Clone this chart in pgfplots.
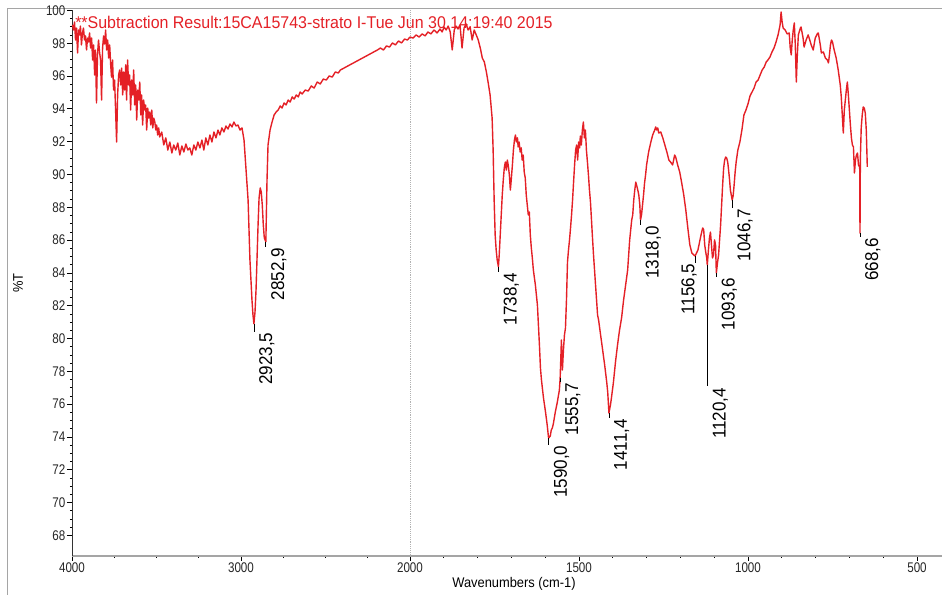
\documentclass[border=0pt]{standalone}
\usepackage{fontspec}
\setmainfont{Liberation Sans}
\newfontfamily\tickfont[FakeStretch=0.83]{Liberation Sans}
\newfontfamily\labfont[FakeStretch=0.92]{Liberation Sans}
\newfontfamily\titlefont[FakeStretch=0.94]{Liberation Sans}
\newfontfamily\peakfont[FakeStretch=0.92]{Liberation Sans}
\usepackage{pgfplots}
\usepackage{pgfplotstable}
\pgfplotsset{compat=1.18}
\definecolor{specred}{RGB}{228,32,38}
\definecolor{framegray}{RGB}{165,165,165}

% IR spectrum: wavenumber (cm-1), transmittance (%T)
\pgfplotstableread{
wn T
3997 99.12
3991 98.81
3985 99.30
3979 98.20
3973 98.93
3967 97.41
3961 98.81
3956 98.51
3950 99.05
3944 97.90
3938 98.63
3932 98.93
3926 98.20
3920 98.45
3914 97.59
3908 98.32
3902 98.08
3896 98.63
3890 97.71
3884 98.32
3878 96.98
3872 97.90
3866 96.07
3861 97.59
3855 94.36
3849 97.29
3843 98.20
3837 97.47
3831 96.98
3825 94.54
3819 97.71
3813 98.45
3807 97.96
3801 98.81
3795 97.59
3789 98.20
3783 97.10
3777 97.90
3771 96.68
3766 95.94
3760 96.98
3754 95.15
3748 95.76
3742 93.93
3736 91.98
3730 94.85
3724 96.07
3718 96.37
3712 95.46
3706 96.49
3700 94.85
3694 96.25
3688 95.15
3682 96.68
3677 94.54
3671 96.98
3665 95.46
3659 96.07
3653 93.93
3647 95.76
3641 94.85
3635 96.37
3629 94.24
3623 95.46
3617 93.32
3611 95.15
3605 94.54
3599 95.64
3593 93.63
3588 94.85
3582 93.02
3576 94.54
3570 93.93
3564 94.24
3558 92.71
3552 94.05
3546 93.44
3540 93.81
3534 93.02
3528 93.93
3522 92.84
3516 93.44
3510 93.20
3504 92.71
3499 93.02
3493 92.41
3487 92.84
3481 92.29
3469 92.59
3457 91.80
3445 92.23
3433 91.49
3421 91.98
3409 91.31
3398 91.80
3386 91.49
3374 91.92
3362 91.19
3350 91.74
3338 91.37
3326 91.86
3314 91.49
3303 91.62
3291 91.19
3279 91.80
3267 91.49
3255 91.98
3243 91.62
3231 92.10
3220 91.49
3208 92.23
3196 91.80
3184 92.41
3172 91.98
3160 92.59
3148 92.23
3136 92.71
3125 92.41
3113 92.84
3101 92.59
3089 92.96
3077 92.77
3065 93.08
3053 92.90
3042 93.20
3030 92.96
3018 93.02
3006 92.71
2994 92.84
2982 92.10
2970 90.27
2958 88.44
2947 84.79
2935 82.35
2929 81.43
2923.5 80.90
2917 81.62
2911 82.96
2905 84.91
2899 86.92
2893 88.57
2886 89.18
2880 88.93
2874 88.14
2868 86.92
2862 86.13
2852.9 85.90
2846 89.66
2840 91.80
2828 92.71
2816 93.20
2804 93.63
2792 93.81
2780 93.93
2768 94.18
2757 94.05
2745 94.36
2733 94.24
2721 94.54
2709 94.42
2697 94.73
2685 94.60
2673 94.85
2661 94.73
2650 95.03
2638 94.91
2620 95.15
2602 95.09
2584 95.40
2567 95.27
2549 95.64
2531 95.52
2513 95.82
2495 95.76
2478 96.01
2460 95.94
2442 96.25
2424 96.19
2412 96.37
2193 97.59
2175 97.71
2157 97.59
2139 97.84
2121 97.77
2104 98.02
2086 97.90
2068 98.14
2050 98.02
2032 98.26
2015 98.20
2000 98.38
1991 98.32
1982 98.51
1973 98.38
1964 98.57
1955 98.45
1947 98.69
1938 98.57
1929 98.81
1920 98.63
1911 98.87
1905 98.69
1899 98.99
1893 98.81
1887 99.05
1881 98.69
1875 97.59
1869 98.81
1864 99.05
1858 98.87
1852 99.12
1846 97.71
1840 98.93
1834 99.18
1828 98.81
1822 98.99
1816 98.20
1810 98.81
1804 98.51
1798 98.20
1792 97.71
1786 97.10
1780 96.86
1774 96.25
1769 95.64
1763 94.85
1757 93.44
1754 91.49
1751 88.44
1748 86.31
1745 85.40
1742 84.79
1738.4 84.38
1736 85.09
1733 86.31
1730 87.53
1727 88.75
1724 89.66
1721 90.40
1718 90.76
1715 90.27
1712 90.88
1709 90.52
1706 89.97
1703 89.05
1700 89.79
1697 90.58
1694 91.49
1691 92.10
1688 92.41
1685 91.98
1682 92.23
1680 91.68
1677 91.98
1674 91.37
1671 91.62
1668 90.88
1665 91.19
1662 90.15
1659 89.79
1656 88.75
1653 88.14
1650 87.53
1647 87.71
1644 86.31
1641 85.52
1638 84.91
1635 84.18
1629 83.26
1623 82.04
1617 79.60
1614 78.20
1611 77.47
1605 76.37
1599 75.52
1594 74.72
1590.0 73.93
1585 74.05
1582 74.42
1579 74.54
1576 74.79
1570 75.52
1564 76.13
1558 76.86
1555.7 77.59
1552 79.91
1549 78.08
1546 79.30
1543 80.21
1540 80.64
1537 82.35
1534 84.66
1531 85.40
1528 86.01
1525 86.74
1522 87.53
1519 88.44
1516 89.54
1513 90.58
1510 91.49
1507 91.80
1504 90.88
1501 91.98
1498 91.62
1496 92.35
1493 91.80
1490 92.71
1487 93.20
1484 92.23
1481 92.71
1478 91.49
1475 90.76
1472 89.97
1469 89.05
1466 88.32
1463 87.23
1460 86.13
1457 85.09
1454 84.18
1451 83.26
1448 82.35
1445 81.43
1442 81.13
1436 80.21
1430 79.30
1424 78.38
1418 77.35
1415 76.74
1411.4 75.46
1407 75.94
1404 76.37
1401 76.86
1398 77.35
1392 78.57
1386 79.60
1380 80.52
1374 81.25
1368 82.35
1362 83.26
1356 84.18
1350 86.01
1344 87.23
1341 87.53
1338 88.44
1335 89.05
1332 89.54
1329 89.30
1326 89.05
1323 88.75
1320 88.14
1318.0 87.22
1315 87.53
1312 88.14
1309 88.75
1306 89.48
1303 89.97
1300 90.58
1294 91.37
1288 91.92
1282 92.41
1276 92.71
1273 92.90
1270 92.71
1267 92.84
1264 92.53
1258 92.59
1252 92.23
1246 91.80
1240 91.37
1234 90.88
1229 90.76
1223 90.58
1220 90.88
1217 91.19
1214 91.07
1208 90.58
1202 90.15
1196 89.48
1190 88.75
1184 87.84
1178 86.74
1172 85.70
1166 85.21
1160 85.09
1156.5 85.03
1148 85.40
1142 86.01
1137 86.49
1134 86.74
1131 86.62
1128 85.70
1125 85.27
1122 84.91
1120.4 84.48
1117 85.40
1114 86.13
1111 86.49
1108 85.70
1105 84.91
1102 85.09
1099 86.01
1096 85.70
1093.6 83.99
1090 84.66
1087 85.09
1084 86.01
1081 86.92
1078 88.14
1075 89.36
1072 90.40
1069 90.88
1066 91.07
1063 91.01
1060 90.76
1058 90.40
1055 89.79
1052 89.05
1046.7 88.44
1044 88.69
1041 89.36
1038 90.15
1035 90.76
1030 91.49
1024 91.98
1018 92.71
1012 93.63
1006 93.93
1000 94.30
994 94.79
988 95.03
982 95.27
976 95.64
970 95.76
964 96.07
958 96.37
952 96.55
946 96.86
941 96.98
935 97.16
929 97.47
923 97.71
917 98.08
911 98.51
905 99.12
902 99.91
899 99.30
896 98.93
890 98.81
884 98.57
878 98.63
875 97.71
872 97.29
869 98.20
866 98.81
863 99.24
860 97.90
857 95.64
854 97.29
851 98.51
845 98.93
843 98.99
837 98.32
834 97.77
828 98.20
822 98.51
819 98.32
813 97.90
807 97.59
801 98.32
795 98.57
792 98.63
786 97.90
783 97.41
777 97.47
771 97.10
765 96.98
762 96.80
759 97.29
756 97.90
753 98.20
750 98.08
745 97.59
739 97.10
733 96.37
727 95.46
724 94.73
721 93.63
718 92.53
715 93.93
712 94.54
709 95.15
706 95.64
703 94.85
700 93.93
697 93.02
694 92.23
691 91.80
688 91.68
685 90.09
682 90.88
679 91.19
676 91.31
673 90.58
670 90.46
669.5 90.40
668.6 86.43
667.5 91.00
665 92.84
662 93.63
659 94.12
656 94.05
653 93.75
650 92.71
647 90.46
}\spectrum

\begin{document}
\begin{tikzpicture}[x=1pt,y=1pt]
\useasboundingbox (0,0) rectangle (706.5,446.25);
% page frame
\draw[framegray, line width=0.75pt] (5.25,-2) -- (5.25,439.5) -- (710,439.5);
\begin{axis}[
  at={(54pt,29.25pt)}, anchor=south west,
  scale only axis, width=652.5pt, height=409.5pt,
  clip=false,
  x dir=reverse,
  % the region above 2000 cm-1 is drawn at half scale
  x coord trafo/.code={\pgfmathparse{#1>2000 ? 2000+(#1-2000)/2 : #1}},
  x coord inv trafo/.code={\pgfmathparse{#1>2000 ? 2000+2*(#1-2000) : #1}},
  xmin=426, xmax=4000, ymin=66.74, ymax=100.03,
  axis x line*=bottom, axis y line*=left,
  x axis line style={framegray, line width=1.4pt},
  y axis line style={black!80, line width=0.5pt},
  xtick={4000,3000,2000,1500,1000,500},
  xticklabels={4000,3000,2000,1500,1000,500},
  minor xtick={3750,3500,3250,2750,2500,2250,1900,1800,1700,1600,1400,1300,1200,1100,900,800,700,600},
  ytick={68,70,...,100},
  minor y tick num=3,
  tick align=outside,
  major tick length=3.75pt,
  minor tick length=1.5pt,
  tick style={black, line width=0.6pt},
  /pgf/number format/assume math mode=true,
  ticklabel style={font=\tickfont\fontsize{10.5}{10.5}\selectfont, text=black!85, inner sep=1pt},
]
\draw[black!30, densely dotted] (axis cs:2000,66.74) -- (axis cs:2000,100.03);
\addplot[specred, line width=1.05pt, line join=round] table[x=wn, y=T] {\spectrum};

% peak annotations
\tikzset{pk/.style={black, line width=0.6pt},
  pl/.style={rotate=90, anchor=north east, inner sep=0pt, font=\peakfont\fontsize{13.9}{13.9}\selectfont}}
\draw[pk] (axis cs:2923.5,80.90) -- ++(0pt,-6pt);
\node[pl] at ([xshift=3.75pt,yshift=-6.5pt]axis cs:2923.5,80.90) {2923,5};
\draw[pk] (axis cs:2852.9,85.90) -- ++(0pt,-4pt);
\node[pl] at ([xshift=3.75pt,yshift=-4.5pt]axis cs:2852.9,85.90) {2852,9};
\draw[pk] (axis cs:1738.4,84.38) -- ++(0pt,-4pt);
\node[pl] at ([xshift=3.75pt,yshift=-4.5pt]axis cs:1738.4,84.38) {1738,4};
\draw[pk] (axis cs:1590.0,73.93) -- ++(0pt,-5pt);
\node[pl] at ([xshift=3.75pt,yshift=-5.5pt]axis cs:1590.0,73.93) {1590,0};
\draw[pk] (axis cs:1555.7,77.59) -- ++(0pt,-3pt);
\node[pl] at ([xshift=3.75pt,yshift=-3.5pt]axis cs:1555.7,77.59) {1555,7};
\draw[pk] (axis cs:1411.4,75.46) -- ++(0pt,-4pt);
\node[pl] at ([xshift=3.75pt,yshift=-4.5pt]axis cs:1411.4,75.46) {1411,4};
\draw[pk] (axis cs:1318.0,87.22) -- ++(0pt,-4pt);
\node[pl] at ([xshift=3.75pt,yshift=-4.5pt]axis cs:1318.0,87.22) {1318,0};
\draw[pk] (axis cs:1156.5,85.03) -- ++(0pt,-5pt);
\node[pl, anchor=south east] at ([xshift=1.5pt,yshift=-5.5pt]axis cs:1156.5,85.03) {1156,5};
\draw[pk] (axis cs:1120.4,84.48) -- ++(0pt,-91pt);
\node[pl] at ([xshift=3.75pt,yshift=-92pt]axis cs:1120.4,84.48) {1120,4};
\draw[pk] (axis cs:1093.6,83.99) -- ++(0pt,-3pt);
\node[pl] at ([xshift=3.75pt,yshift=-3.5pt]axis cs:1093.6,83.99) {1093,6};
\draw[pk] (axis cs:1046.7,88.44) -- ++(0pt,-6pt);
\node[pl] at ([xshift=3.75pt,yshift=-6.5pt]axis cs:1046.7,88.44) {1046,7};
\draw[pk] (axis cs:668.6,86.43) -- ++(0pt,-3pt);
\node[pl] at ([xshift=3.75pt,yshift=-3.5pt]axis cs:668.6,86.43) {668,6};
\end{axis}
% title line of the spectrum window
\node[anchor=base west, inner sep=0pt, text=specred, font=\titlefont\fontsize{12.75}{12.75}\selectfont] at (56.25,424.5) {**Subtraction Result:15CA15743-strato I-Tue Jun 30 14:19:40 2015};
\node[rotate=90, inner sep=0pt, font=\labfont\fontsize{10.5}{10.5}\selectfont] at (13.5,234) {\%T};
\node[anchor=base, inner sep=0pt, font=\labfont\fontsize{10.5}{10.5}\selectfont] at (385.5,5.5) {Wavenumbers (cm-1)};
\end{tikzpicture}
\end{document}
